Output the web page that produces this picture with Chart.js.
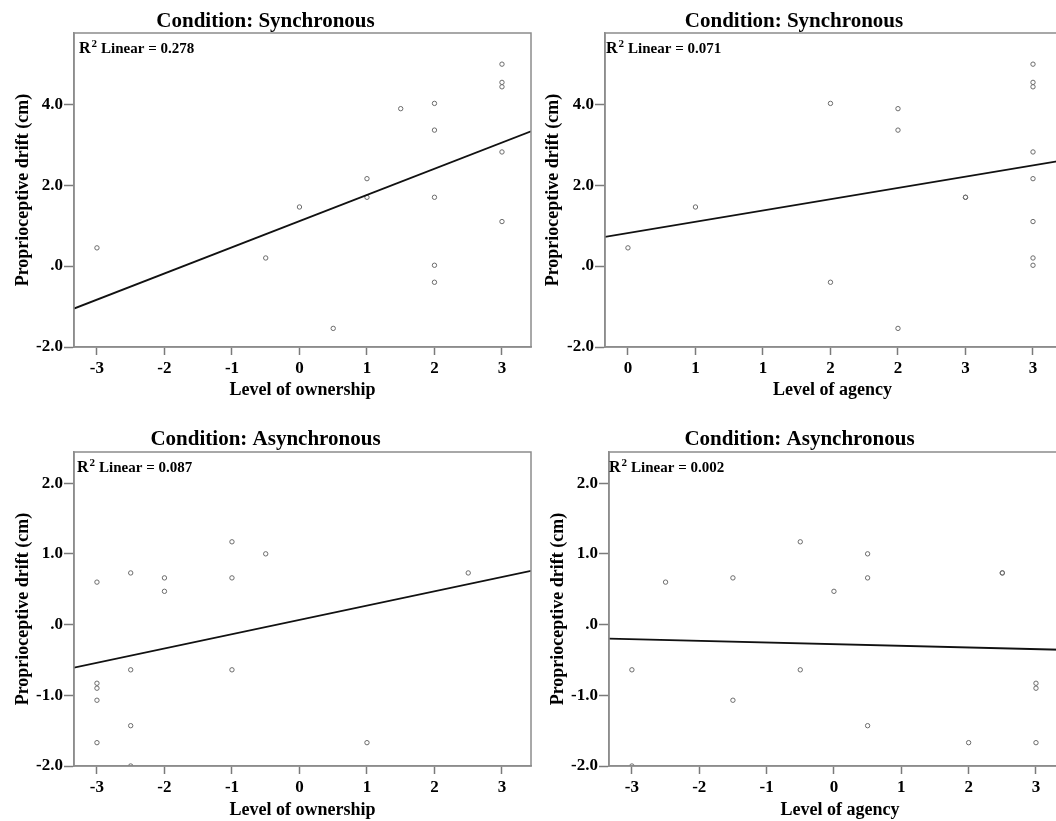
<!doctype html>
<html lang="en">
<head>
<meta charset="utf-8">
<title>Proprioceptive drift by ownership and agency</title>
<script src="https://cdn.jsdelivr.net/npm/chart.js@4.4.1/dist/chart.umd.min.js"></script>
<style>
  html, body { margin: 0; padding: 0; background: #fff; width: 1056px; height: 821px; overflow: hidden; }
  .panel { position: absolute; }
  .panel canvas { display: block; }
</style>
</head>
<body>
<div class="panel" style="left:0;top:0"><canvas id="ownSync" width="532" height="405"></canvas></div>
<div class="panel" style="left:528px;top:0"><canvas id="agencySync" width="532" height="405"></canvas></div>
<div class="panel" style="left:0;top:410px"><canvas id="ownAsync" width="532" height="411"></canvas></div>
<div class="panel" style="left:528px;top:410px"><canvas id="agencyAsync" width="543" height="411"></canvas></div>
<script>
// values
const ownershipSync = [-3, -0.5, 0, 0.5, 1, 1, 1.5, 2, 2, 2, 2, 2, 3, 3, 3, 3, 3];
const driftSyncOwn  = [0.45, 0.20, 1.46, -1.54, 2.16, 1.70, 3.89, 4.02, 3.36, 1.70, 0.02, -0.40, 4.99, 4.54, 4.43, 2.82, 1.10];

const agencySync      = [0, 0.5, 1.5, 1.5, 2, 2, 2, 2.5, 2.5, 3, 3, 3, 3, 3, 3, 3, 3];
const driftSyncAgency = [0.45, 1.46, 4.02, -0.40, 3.89, 3.36, -1.54, 1.70, 1.70, 4.99, 4.54, 4.43, 2.82, 2.16, 1.10, 0.20, 0.02];

const ownershipAsync = [-3, -3, -3, -3, -3, -2.5, -2.5, -2.5, -2.5, -2, -2, -1, -1, -1, -0.5, 1, 2.5];
const driftAsyncOwn  = [0.60, -0.83, -0.90, -1.07, -1.67, 0.73, -0.64, -1.43, -2.00, 0.66, 0.47, 1.17, 0.66, -0.64, 1.00, -1.67, 0.73];

const agencyAsync      = [-3, -3, -2.5, -1.5, -1.5, -0.5, -0.5, 0, 0.5, 0.5, 0.5, 2, 2.5, 2.5, 3, 3, 3];
const driftAsyncAgency = [-0.64, -2.00, 0.60, 0.66, -1.07, 1.17, -0.64, 0.47, 1.00, 0.66, -1.43, -1.67, 0.73, 0.73, -0.83, -0.90, -1.67];

// fit lines (end points at the plot edges)
const fitOwnSyncX = [-3.34, 3.43],      fitOwnSyncY = [-1.05, 3.33];
const fitAgencySyncX = [-0.17, 3.2],    fitAgencySyncY = [0.72, 2.60];
const fitOwnAsyncX = [-3.34, 3.43],     fitOwnAsyncY = [-0.61, 0.76];
const fitAgencyAsyncX = [-3.34, 3.52],  fitAgencyAsyncY = [-0.20, -0.36];

const r2Values = [0.278, 0.071, 0.087, 0.002];

// ticks
const ownershipTicks = [-3, -2, -1, 0, 1, 2, 3];
const ownershipLabels = ['-3', '-2', '-1', '0', '1', '2', '3'];
const agencySyncTicks = [0, 0.5, 1, 1.5, 2, 2.5, 3];
const agencySyncLabels = ['0', '1', '1', '2', '2', '3', '3'];
const ySyncTicks = [-2, 0, 2, 4];
const ySyncLabels = ['-2.0', '.0', '2.0', '4.0'];
const yAsyncTicks = [-2, -1, 0, 1, 2];
const yAsyncLabels = ['-2.0', '-1.0', '.0', '1.0', '2.0'];

const serif = "'Liberation Serif', 'Times New Roman', serif";

const framePlugin = {
  id: 'frame',
  afterDraw(chart) {
    const { ctx, chartArea: a } = chart;
    ctx.save();
    ctx.strokeStyle = '#8c8c8c';
    ctx.lineWidth = 1.5;
    ctx.strokeRect(a.left, a.top, a.right - a.left, a.bottom - a.top);
    ctx.restore();
  }
};

const r2Plugin = {
  id: 'r2',
  afterDraw(chart, args, opts) {
    const { ctx, chartArea: a } = chart;
    ctx.save();
    ctx.fillStyle = '#000';
    ctx.textBaseline = 'alphabetic';
    let x = a.left + opts.dx;
    const y = a.top + 20;
    ctx.font = 'bold 16px ' + serif;
    ctx.fillText('R', x, y);
    x += ctx.measureText('R').width + 1;
    ctx.font = 'bold 11px ' + serif;
    ctx.fillText('2', x, y - 6);
    x += ctx.measureText('2').width + 4;
    ctx.font = 'bold 15px ' + serif;
    ctx.fillText('Linear = ' + opts.value.toFixed(3), x, y);
    ctx.restore();
  }
};

function drawPanel(id, p) {
  const pts = p.x.map((x, i) => ({ x: x, y: p.y[i] }));
  const fit = p.fitX.map((x, i) => ({ x: x, y: p.fitY[i] }));
  new Chart(document.getElementById(id), {
    type: 'scatter',
    data: {
      datasets: [
        { type: 'line', data: fit, borderColor: '#111', borderWidth: 1.8, pointRadius: 0, fill: false },
        { data: pts, pointRadius: 2.2, pointBorderWidth: 1, borderColor: '#6b6b6b', backgroundColor: 'rgba(255,255,255,0)' }
      ]
    },
    options: {
      responsive: false,
      animation: false,
      devicePixelRatio: 1,
      layout: { autoPadding: false, padding: { left: 0, right: p.padRight, top: 0, bottom: 0 } },
      plugins: {
        legend: { display: false },
        tooltip: { enabled: false },
        title: {
          display: true, text: p.title, color: '#000',
          font: { family: serif, size: 21, weight: 'bold', lineHeight: 1 },
          padding: { top: p.titleTop, bottom: p.titleBottom }
        },
        r2: { value: p.r2, dx: p.r2dx }
      },
      scales: {
        x: {
          type: 'linear', min: p.xRange[0], max: p.xRange[1],
          afterBuildTicks: s => { s.ticks = p.xTicks.map(v => ({ value: v })); },
          afterFit: s => { s.height = p.xH; s.paddingLeft = 0; s.paddingRight = 0; },
          grid: { drawOnChartArea: false, drawTicks: true, tickLength: 8, tickColor: '#7a7a7a', tickWidth: 1.5 },
          border: { color: '#8c8c8c', width: 1.5 },
          ticks: {
            callback: (v, i) => p.xLabels[i], color: '#000', padding: 3,
            maxRotation: 0, autoSkip: false, font: { family: serif, size: 17, weight: 'bold' }
          },
          title: {
            display: true, text: p.xTitle, color: '#000',
            font: { family: serif, size: 18, weight: 'bold' },
            padding: { top: 0, bottom: p.xTitlePad }
          }
        },
        y: {
          type: 'linear', min: p.yRange[0], max: p.yRange[1],
          afterBuildTicks: s => { s.ticks = p.yTicks.map(v => ({ value: v })); },
          afterFit: s => { s.width = p.yW; s.paddingTop = 0; s.paddingBottom = 0; },
          grid: { drawOnChartArea: false, drawTicks: true, tickLength: 10, tickColor: '#7a7a7a', tickWidth: 1.5 },
          border: { color: '#8c8c8c', width: 1.5 },
          ticks: {
            callback: (v, i) => p.yLabels[i], color: '#000', padding: 1,
            autoSkip: false, font: { family: serif, size: 17, weight: 'bold' }
          },
          title: {
            display: true, text: 'Proprioceptive drift (cm)', color: '#000',
            font: { family: serif, size: 18, weight: 'bold' },
            padding: { top: p.yTitlePad, bottom: 0 }
          }
        }
      }
    },
    plugins: [framePlugin, r2Plugin]
  });
}

drawPanel('ownSync', {
  title: 'Condition: Synchronous', xTitle: 'Level of ownership',
  x: ownershipSync, y: driftSyncOwn, fitX: fitOwnSyncX, fitY: fitOwnSyncY, r2: r2Values[0], r2dx: 5,
  xRange: [-3.34, 3.43], xTicks: ownershipTicks, xLabels: ownershipLabels,
  yRange: [-2, 5.76], yTicks: ySyncTicks, yLabels: ySyncLabels,
  padRight: 1, yW: 74, xH: 58, titleTop: 11, titleBottom: 1, xTitlePad: 4, yTitlePad: 13
});
drawPanel('agencySync', {
  title: 'Condition: Synchronous', xTitle: 'Level of agency',
  x: agencySync, y: driftSyncAgency, fitX: fitAgencySyncX, fitY: fitAgencySyncY, r2: r2Values[1], r2dx: 1,
  xRange: [-0.17, 3.2], xTicks: agencySyncTicks, xLabels: agencySyncLabels,
  yRange: [-2, 5.76], yTicks: ySyncTicks, yLabels: ySyncLabels,
  padRight: 0, yW: 77, xH: 58, titleTop: 11, titleBottom: 1, xTitlePad: 4, yTitlePad: 15
});
drawPanel('ownAsync', {
  title: 'Condition: Asynchronous', xTitle: 'Level of ownership',
  x: ownershipAsync, y: driftAsyncOwn, fitX: fitOwnAsyncX, fitY: fitOwnAsyncY, r2: r2Values[2], r2dx: 3,
  xRange: [-3.34, 3.43], xTicks: ownershipTicks, xLabels: ownershipLabels,
  yRange: [-2, 2.44], yTicks: yAsyncTicks, yLabels: yAsyncLabels,
  padRight: 1, yW: 74, xH: 55, titleTop: 19, titleBottom: 2, xTitlePad: 0, yTitlePad: 13
});
drawPanel('agencyAsync', {
  title: 'Condition: Asynchronous', xTitle: 'Level of agency',
  x: agencyAsync, y: driftAsyncAgency, fitX: fitAgencyAsyncX, fitY: fitAgencyAsyncY, r2: r2Values[3], r2dx: 0,
  xRange: [-3.34, 3.52], xTicks: ownershipTicks, xLabels: ownershipLabels,
  yRange: [-2, 2.44], yTicks: yAsyncTicks, yLabels: yAsyncLabels,
  padRight: 0, yW: 81, xH: 55, titleTop: 19, titleBottom: 2, xTitlePad: 0, yTitlePad: 20
});
</script>
</body>
</html>
